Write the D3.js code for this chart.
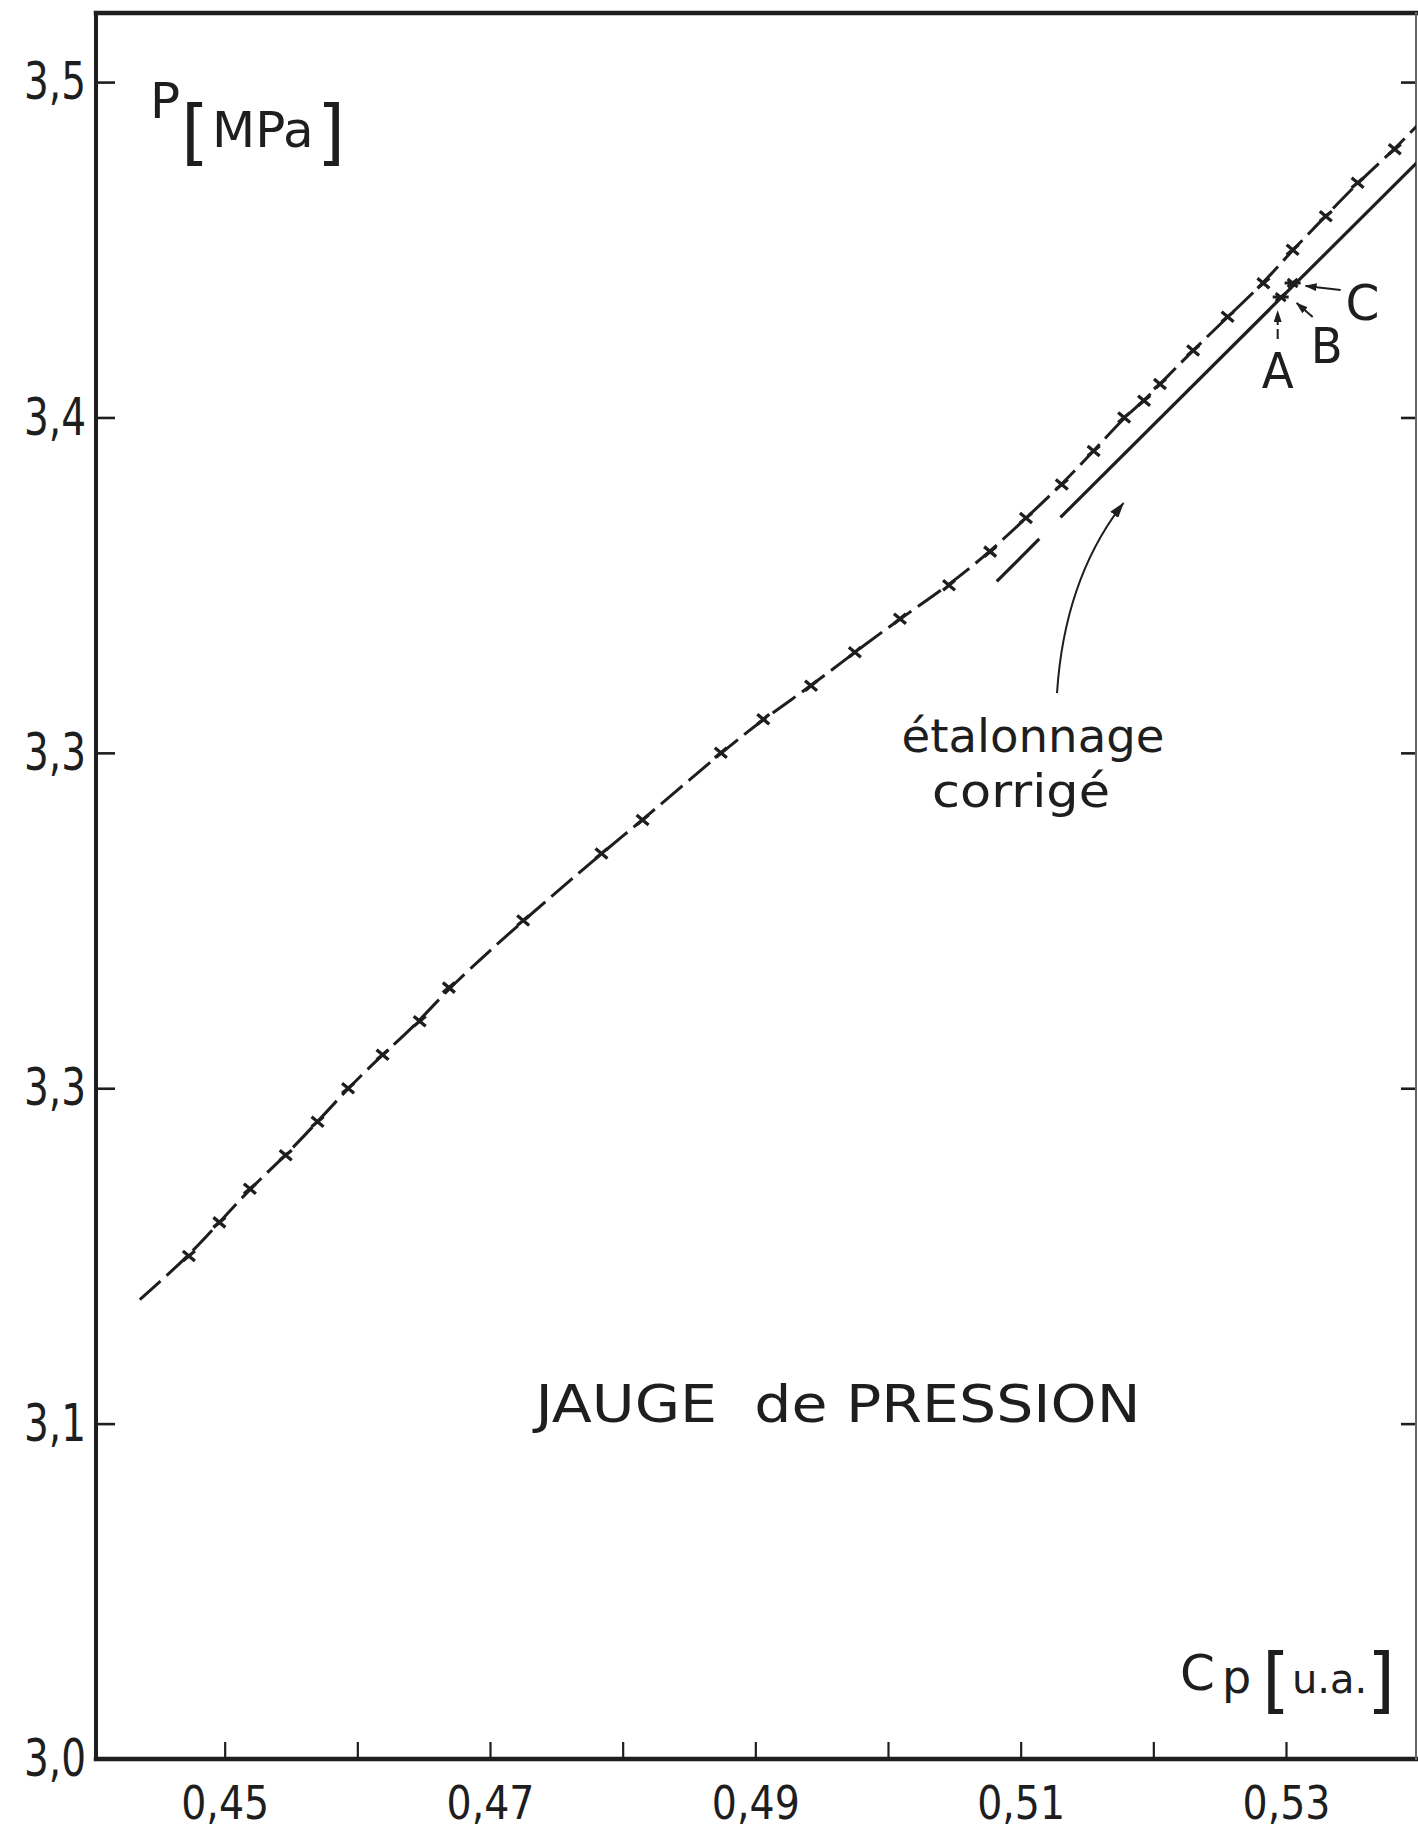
<!DOCTYPE html>
<html><head><meta charset="utf-8">
<script src="https://cdn.jsdelivr.net/npm/d3@7"></script>
<style>
html,body{margin:0;padding:0;background:#fff;}
svg{display:block;}
text{font-family:"DejaVu Sans","Liberation Sans",sans-serif;fill:#1e1e1e;}
</style></head><body>
<svg id="chart" width="1418" height="1835"></svg>
<script>
// ---------------- DATA ----------------
const xDomain = [0.4403, 0.5398];
const yDomain = [3.0, 3.5206];
const xTickVals = [0.45, 0.46, 0.47, 0.48, 0.49, 0.50, 0.51, 0.52, 0.53];
const xTickLabels = ["0,45", "", "0,47", "", "0,49", "", "0,51", "", "0,53"];
const yTickVals = [3.0, 3.1, 3.2, 3.3, 3.4, 3.5];
const yTickLabels = ["3,0", "3,1", "3,3", "3,3", "3,4", "3,5"];

// measured points (crosses) : Cp [u.a.] , P [MPa]
const measuredC = [0.4473, 0.4496, 0.4519, 0.4546, 0.4570, 0.4593, 0.4619, 0.4647, 0.4669, 0.4725,
                   0.4784, 0.4815, 0.4874, 0.4906, 0.4942, 0.4975, 0.5009, 0.5046, 0.5077, 0.5104,
                   0.5131, 0.5155, 0.5178, 0.5193, 0.5205, 0.5230, 0.5256, 0.5283, 0.5305, 0.5330,
                   0.5354, 0.5382];
const measuredP = [3.15, 3.16, 3.17, 3.18, 3.19, 3.20, 3.21, 3.22, 3.23, 3.25,
                   3.27, 3.28, 3.30, 3.31, 3.32, 3.33, 3.34, 3.35, 3.36, 3.37,
                   3.38, 3.39, 3.40, 3.405, 3.41, 3.42, 3.43, 3.44, 3.45, 3.46,
                   3.47, 3.48];
// dashed trace extends beyond the measured points
const traceStartC = [0.4436], traceStartP = [3.137];
const traceEndC = [0.5400], traceEndP = [3.4875];

// "étalonnage corrigé" (solid line, two pieces)
const corr1C = [0.5082, 0.5114], corr1P = [3.3511, 3.3638];
const corr2C = [0.5130, 0.5400], corr2P = [3.3702, 3.4765];

// points A and C near Cp = 0.53
const abcC = [0.5296, 0.5305];
const abcP = [3.4359, 3.4401];

// ---------------- LAYOUT ----------------
const svg = d3.select("#chart");
const L = 96, R = 1416, T = 13, B = 1759;
const x = d3.scaleLinear().domain(xDomain).range([L, R]);
const y = d3.scaleLinear().domain(yDomain).range([B, T]);
const ink = "#1e1e1e";

svg.append("rect").attr("width", 1418).attr("height", 1835).attr("fill", "#fff");

const defs = svg.append("defs");
defs.append("clipPath").attr("id", "clip")
  .append("rect").attr("x", L).attr("y", T).attr("width", R - L).attr("height", B - T);
defs.append("marker").attr("id", "arr").attr("viewBox", "0 0 12 8")
  .attr("refX", 11).attr("refY", 4).attr("markerWidth", 12).attr("markerHeight", 8)
  .attr("markerUnits", "userSpaceOnUse").attr("orient", "auto")
  .append("path").attr("d", "M0,0L12,4L0,8Z").attr("fill", ink);
defs.append("marker").attr("id", "arrBig").attr("viewBox", "0 0 16 10")
  .attr("refX", 15).attr("refY", 5).attr("markerWidth", 16).attr("markerHeight", 10)
  .attr("markerUnits", "userSpaceOnUse").attr("orient", "auto")
  .append("path").attr("d", "M0,0L16,5L0,10Z").attr("fill", ink);

// axes
const fontFam = '"DejaVu Sans","Liberation Sans",sans-serif';
const gx = svg.append("g").attr("transform", `translate(0,${B})`)
  .call(d3.axisBottom(x).tickValues(xTickVals).tickFormat((d, i) => xTickLabels[i])
    .tickSize(-17).tickSizeOuter(0).tickPadding(27));
gx.attr("font-size", null).attr("font-family", null);
gx.select(".domain").remove();
gx.selectAll(".tick line").attr("stroke", ink).attr("stroke-width", 2.2);
gx.selectAll(".tick text").attr("font-size", 47).attr("fill", ink).attr("font-family", fontFam)
  .each(function () { if (this.textContent) d3.select(this).attr("textLength", 88).attr("lengthAdjust", "spacingAndGlyphs"); });

const gy = svg.append("g").attr("transform", `translate(${L},0)`)
  .call(d3.axisLeft(y).tickValues(yTickVals).tickFormat((d, i) => yTickLabels[i])
    .tickSize(-19).tickSizeOuter(0).tickPadding(10));
gy.attr("font-size", null).attr("font-family", null);
gy.select(".domain").remove();
gy.selectAll(".tick line").attr("stroke", ink).attr("stroke-width", 2.6);
gy.selectAll(".tick text").attr("font-size", 52).attr("fill", ink).attr("font-family", fontFam)
  .attr("textLength", 62).attr("lengthAdjust", "spacingAndGlyphs");

const gr = svg.append("g").attr("transform", `translate(${R},0)`)
  .call(d3.axisRight(y).tickValues(yTickVals.filter(v => v > 3.0)).tickFormat("").tickSize(-15).tickSizeOuter(0));
gr.select(".domain").remove();
gr.selectAll(".tick line").attr("stroke", ink).attr("stroke-width", 2.6);

// frame
const frame = svg.append("g").attr("stroke", ink).attr("stroke-linecap", "square");
frame.append("line").attr("x1", L).attr("x2", L).attr("y1", T).attr("y2", B).attr("stroke-width", 4);
frame.append("line").attr("x1", L).attr("x2", 1418).attr("y1", B).attr("y2", B).attr("stroke-width", 4.5);
frame.append("line").attr("x1", L).attr("x2", 1418).attr("y1", T).attr("y2", T).attr("stroke-width", 4.5);
frame.append("line").attr("x1", R).attr("x2", R).attr("y1", T).attr("y2", B).attr("stroke-width", 2).attr("stroke", "#666");

// plot
const plot = svg.append("g").attr("clip-path", "url(#clip)");
const traceC = traceStartC.concat(measuredC, traceEndC);
const traceP = traceStartP.concat(measuredP, traceEndP);
const line = d3.line().x(d => x(d[0])).y(d => y(d[1])).curve(d3.curveBasis);

plot.append("path").datum(traceC.map((c, i) => [c, traceP[i]]))
  .attr("d", line).attr("fill", "none").attr("stroke", ink).attr("stroke-width", 3)
  .attr("stroke-dasharray", "28,8");

[[corr1C, corr1P], [corr2C, corr2P]].forEach(([cs, ps]) => {
  plot.append("path").datum(cs.map((c, i) => [c, ps[i]]))
    .attr("d", d3.line().x(d => x(d[0])).y(d => y(d[1])))
    .attr("fill", "none").attr("stroke", ink).attr("stroke-width", 3.2);
});

const cross = "M-6,-5L6,5M-6,5L6,-5";
plot.selectAll(".pt").data(measuredC.map((c, i) => [c, measuredP[i]])).enter()
  .append("path").attr("class", "pt")
  .attr("transform", d => `translate(${x(d[0])},${y(d[1])})`)
  .attr("d", cross).attr("stroke", ink).attr("stroke-width", 3.3).attr("fill", "none");
plot.selectAll(".abc").data(abcC.map((c, i) => [c, abcP[i]])).enter()
  .append("path").attr("class", "abc")
  .attr("transform", d => `translate(${x(d[0])},${y(d[1])})`)
  .attr("d", "M-8,0L8,0M-5,-4L5,4M-5,4L5,-4").attr("stroke", ink).attr("stroke-width", 3).attr("fill", "none");

// ---------------- ANNOTATIONS ----------------
const ann = svg.append("g");
function txt(s, px, py, size, anchor, len) {
  const t = ann.append("text").attr("x", px).attr("y", py).attr("font-size", size)
    .attr("text-anchor", anchor || "start").attr("fill", ink).text(s);
  if (len) t.attr("textLength", len).attr("lengthAdjust", "spacingAndGlyphs");
  return t;
}
// P [MPa]
txt("P", 150, 118, 50, "start");
txt("[", 181, 156, 72, "start");
txt("MPa", 212, 147, 50, "start");
txt("]", 317, 156, 72, "start");
// Cp [u.a.]
txt("C", 1180, 1690, 50, "start");
txt("p", 1222, 1693, 46, "start");
txt("[", 1262, 1704, 72, "start");
txt("u.a.", 1292, 1693, 40, "start");
txt("]", 1367, 1704, 72, "start");

// étalonnage corrigé
txt("étalonnage", 1033, 752, 46, "middle", 263);
txt("corrigé", 1021, 807, 46, "middle", 178);
const tail = [x(0.51274), y(3.3178)], ctrl = [x(0.51330), y(3.3520)], tip = [x(0.51775), y(3.3745)];
ann.append("path").attr("d", `M${tail[0]},${tail[1]}Q${ctrl[0]},${ctrl[1]} ${tip[0]},${tip[1]}`)
  .attr("fill", "none").attr("stroke", ink).attr("stroke-width", 2).attr("marker-end", "url(#arrBig)");

// JAUGE de PRESSION
txt("JAUGE  de PRESSION", 838, 1422, 52, "middle", 605).style("white-space", "pre");

// A B C labels and arrows
const pA = [x(abcC[0]), y(abcP[0])], pC = [x(abcC[1]), y(abcP[1])];
txt("A", pA[0] - 3, pA[1] + 91, 50, "middle", 32);
txt("B", pA[0] + 46, pA[1] + 66, 50, "middle", 32);
txt("C", pC[0] + 70, pC[1] + 37, 50, "middle", 34);
ann.append("line").attr("x1", pA[0] - 3).attr("y1", pA[1] + 42).attr("x2", pA[0] - 3).attr("y2", pA[1] + 14)
  .attr("stroke", ink).attr("stroke-width", 2).attr("stroke-dasharray", "10,4").attr("marker-end", "url(#arr)");
ann.append("line").attr("x1", pA[0] + 32).attr("y1", pA[1] + 20).attr("x2", pA[0] + 16).attr("y2", pA[1] + 6)
  .attr("stroke", ink).attr("stroke-width", 2).attr("marker-end", "url(#arr)");
ann.append("line").attr("x1", pC[0] + 48).attr("y1", pC[1] + 7).attr("x2", pC[0] + 13).attr("y2", pC[1] + 3)
  .attr("stroke", ink).attr("stroke-width", 2.2).attr("marker-end", "url(#arr)");
</script>
</body></html>
